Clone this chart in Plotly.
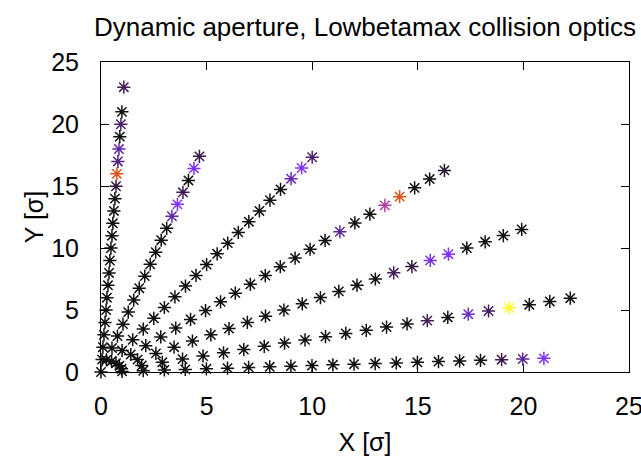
import plotly.graph_objects as go

# Ray A (~3 deg)
ray_a_x = [0.00, 1.00, 2.00, 3.00, 3.99, 4.99, 5.99, 6.99, 7.99, 8.99, 9.99, 10.98, 11.98, 12.98, 13.98, 14.98, 15.98, 16.98, 17.97, 18.97, 19.97, 20.97]
ray_a_y = [0.00, 0.05, 0.10, 0.16, 0.21, 0.26, 0.31, 0.37, 0.42, 0.47, 0.52, 0.58, 0.63, 0.68, 0.73, 0.78, 0.84, 0.89, 0.94, 0.99, 1.05, 1.10]
ray_a_v = [0, 0, 0, 0, 0, 0, 0, 0, 0, 0, 0, 0, 0, 0, 0, 0, 0, 0, 0, 0.06, 0.14, 0.26]

# Ray B (15 deg)
ray_b_x = [0.97, 1.93, 2.90, 3.86, 4.83, 5.80, 6.76, 7.73, 8.69, 9.66, 10.63, 11.59, 12.56, 13.52, 14.49, 15.45, 16.42, 17.39, 18.35, 19.32, 20.28, 21.25, 22.22]
ray_b_y = [0.26, 0.52, 0.78, 1.04, 1.29, 1.55, 1.81, 2.07, 2.33, 2.59, 2.85, 3.11, 3.36, 3.62, 3.88, 4.14, 4.40, 4.66, 4.92, 5.18, 5.43, 5.69, 5.95]
ray_b_v = [0, 0, 0, 0, 0, 0, 0, 0, 0, 0, 0, 0, 0, 0, 0, 0.08, 0, 0.2, 0.08, 1.0, 0, 0, 0]

# Ray C (30 deg)
ray_c_x = [0.87, 1.73, 2.60, 3.46, 4.33, 5.20, 6.06, 6.93, 7.79, 8.66, 9.53, 10.39, 11.26, 12.12, 12.99, 13.86, 14.72, 15.59, 16.45, 17.32, 18.19, 19.05, 19.92]
ray_c_y = [0.5, 1.0, 1.5, 2.0, 2.5, 3.0, 3.5, 4.0, 4.5, 5.0, 5.5, 6.0, 6.5, 7.0, 7.5, 8.0, 8.5, 9.0, 9.5, 10.0, 10.5, 11.0, 11.5]
ray_c_v = [0, 0, 0, 0, 0, 0, 0, 0, 0, 0, 0, 0, 0, 0, 0, 0.08, 0.04, 0.22, 0.25, 0, 0, 0, 0]

# Ray 45 deg
ray_d_x = [0.71, 1.41, 2.12, 2.83, 3.54, 4.24, 4.95, 5.66, 6.36, 7.07, 7.78, 8.49, 9.19, 9.90, 10.61, 11.31, 12.02, 12.73, 13.44, 14.14, 14.85, 15.56, 16.26]
ray_d_y = [0.71, 1.41, 2.12, 2.83, 3.54, 4.24, 4.95, 5.66, 6.36, 7.07, 7.78, 8.49, 9.19, 9.90, 10.61, 11.31, 12.02, 12.73, 13.44, 14.14, 14.85, 15.56, 16.26]
ray_d_v = [0, 0, 0, 0, 0, 0, 0, 0, 0, 0, 0, 0, 0, 0, 0, 0.15, 0, 0, 0.4, 0.64, 0, 0, 0.03]

# Ray 60 deg
ray_e_x = [0.5, 1.0, 1.5, 2.0, 2.5, 3.0, 3.5, 4.0, 4.5, 5.0, 5.5, 6.0, 6.5, 7.0, 7.5, 8.0, 8.5, 9.0, 9.5, 10.0]
ray_e_y = [0.87, 1.73, 2.60, 3.46, 4.33, 5.20, 6.06, 6.93, 7.79, 8.66, 9.53, 10.39, 11.26, 12.12, 12.99, 13.86, 14.72, 15.59, 16.45, 17.32]
ray_e_v = [0, 0, 0, 0, 0, 0, 0, 0, 0, 0, 0, 0, 0, 0, 0, 0, 0, 0.18, 0.26, 0.1]

# Ray 75 deg
ray_f_x = [0.26, 0.52, 0.78, 1.04, 1.29, 1.55, 1.81, 2.07, 2.33, 2.59, 2.85, 3.11, 3.36, 3.62, 3.88, 4.14, 4.40, 4.66]
ray_f_y = [0.97, 1.93, 2.90, 3.86, 4.83, 5.80, 6.76, 7.73, 8.69, 9.66, 10.63, 11.59, 12.56, 13.52, 14.49, 15.45, 16.42, 17.39]
ray_f_v = [0, 0, 0, 0, 0, 0, 0, 0, 0, 0, 0, 0, 0.16, 0.26, 0.06, 0, 0.24, 0.05]

# Ray ~87 deg
ray_g_x = [0.05, 0.09, 0.14, 0.19, 0.24, 0.28, 0.33, 0.38, 0.42, 0.47, 0.52, 0.56, 0.61, 0.66, 0.71, 0.75, 0.80, 0.85, 0.89, 0.94, 0.99, 1.08]
ray_g_y = [1.00, 2.00, 3.00, 4.00, 4.99, 5.99, 6.99, 7.99, 8.99, 9.99, 10.99, 11.99, 12.99, 13.98, 14.98, 15.98, 16.98, 17.98, 18.98, 19.98, 20.98, 22.97]
ray_g_v = [0, 0, 0, 0, 0, 0, 0, 0, 0, 0, 0, 0, 0, 0, 0.04, 0.64, 0.12, 0.16, 0, 0.1, 0, 0.08]

rays = [
    (ray_a_x, ray_a_y, ray_a_v),
    (ray_b_x, ray_b_y, ray_b_v),
    (ray_c_x, ray_c_y, ray_c_v),
    (ray_d_x, ray_d_y, ray_d_v),
    (ray_e_x, ray_e_y, ray_e_v),
    (ray_f_x, ray_f_y, ray_f_v),
    (ray_g_x, ray_g_y, ray_g_v),
]

x_ticks = [0, 5, 10, 15, 20, 25]
y_ticks = [0, 5, 10, 15, 20, 25]

# gnuplot-like palette (black -> violet -> red -> yellow), softened like antialiased strokes
palette = [
    [0.0, "#111111"], [0.05, "#3a1a4a"], [0.1, "#4e2068"], [0.2, "#7030c8"],
    [0.25, "#8030ff"], [0.3, "#8c38f2"], [0.4, "#b040a0"], [0.5, "#c04030"],
    [0.6, "#d84a20"], [0.7, "#e06010"], [0.8, "#e88800"], [0.9, "#f4c000"],
    [1.0, "#ffff20"],
]

fig = go.Figure()
for xs, ys, vs in rays:
    fig.add_trace(go.Scatter(
        x=xs, y=ys, mode="markers", showlegend=False, cliponaxis=False,
        marker=dict(symbol="asterisk-open", size=11, color=vs,
                    colorscale=palette, cmin=0, cmax=1,
                    line=dict(width=1.5)),
    ))

font_family = "Liberation Sans, Arial, sans-serif"
fig.update_layout(
    width=641, height=461,
    margin=dict(l=101, r=12, t=62, b=89, autoexpand=False),
    paper_bgcolor="white", plot_bgcolor="white",
    font=dict(family=font_family, color="black", size=25),
    title=dict(text="Dynamic aperture, Lowbetamax collision optics",
               x=0.5, xanchor="center", y=1 - 27 / 461, yanchor="middle",
               yref="container", xref="paper", font=dict(size=26)),
)
fig.update_xaxes(
    range=[0, 25], tickvals=x_ticks, ticktext=[str(t) for t in x_ticks],
    showgrid=False, zeroline=False, showline=True, linecolor="black",
    linewidth=1, mirror="ticks", ticks="inside", ticklen=8, tickcolor="black",
    tickfont=dict(size=25), ticklabelstandoff=12, automargin=False,
    ticklabeloverflow="allow",
    title=dict(text="X [σ]", font=dict(size=25), standoff=14),
)
fig.update_yaxes(
    range=[0, 25], tickvals=y_ticks, ticktext=[str(t) for t in y_ticks],
    showgrid=False, zeroline=False, showline=True, linecolor="black",
    linewidth=1, mirror="ticks", ticks="inside", ticklen=8, tickcolor="black",
    tickfont=dict(size=25), ticklabelstandoff=16, automargin=False,
    ticklabeloverflow="allow",
    title=dict(text="Y [σ]", font=dict(size=25), standoff=0),
)

fig.write_html(
    "out.html",
    config={"displayModeBar": False},
    post_script="document.body.style.margin='0px';document.body.style.overflow='hidden';",
)
